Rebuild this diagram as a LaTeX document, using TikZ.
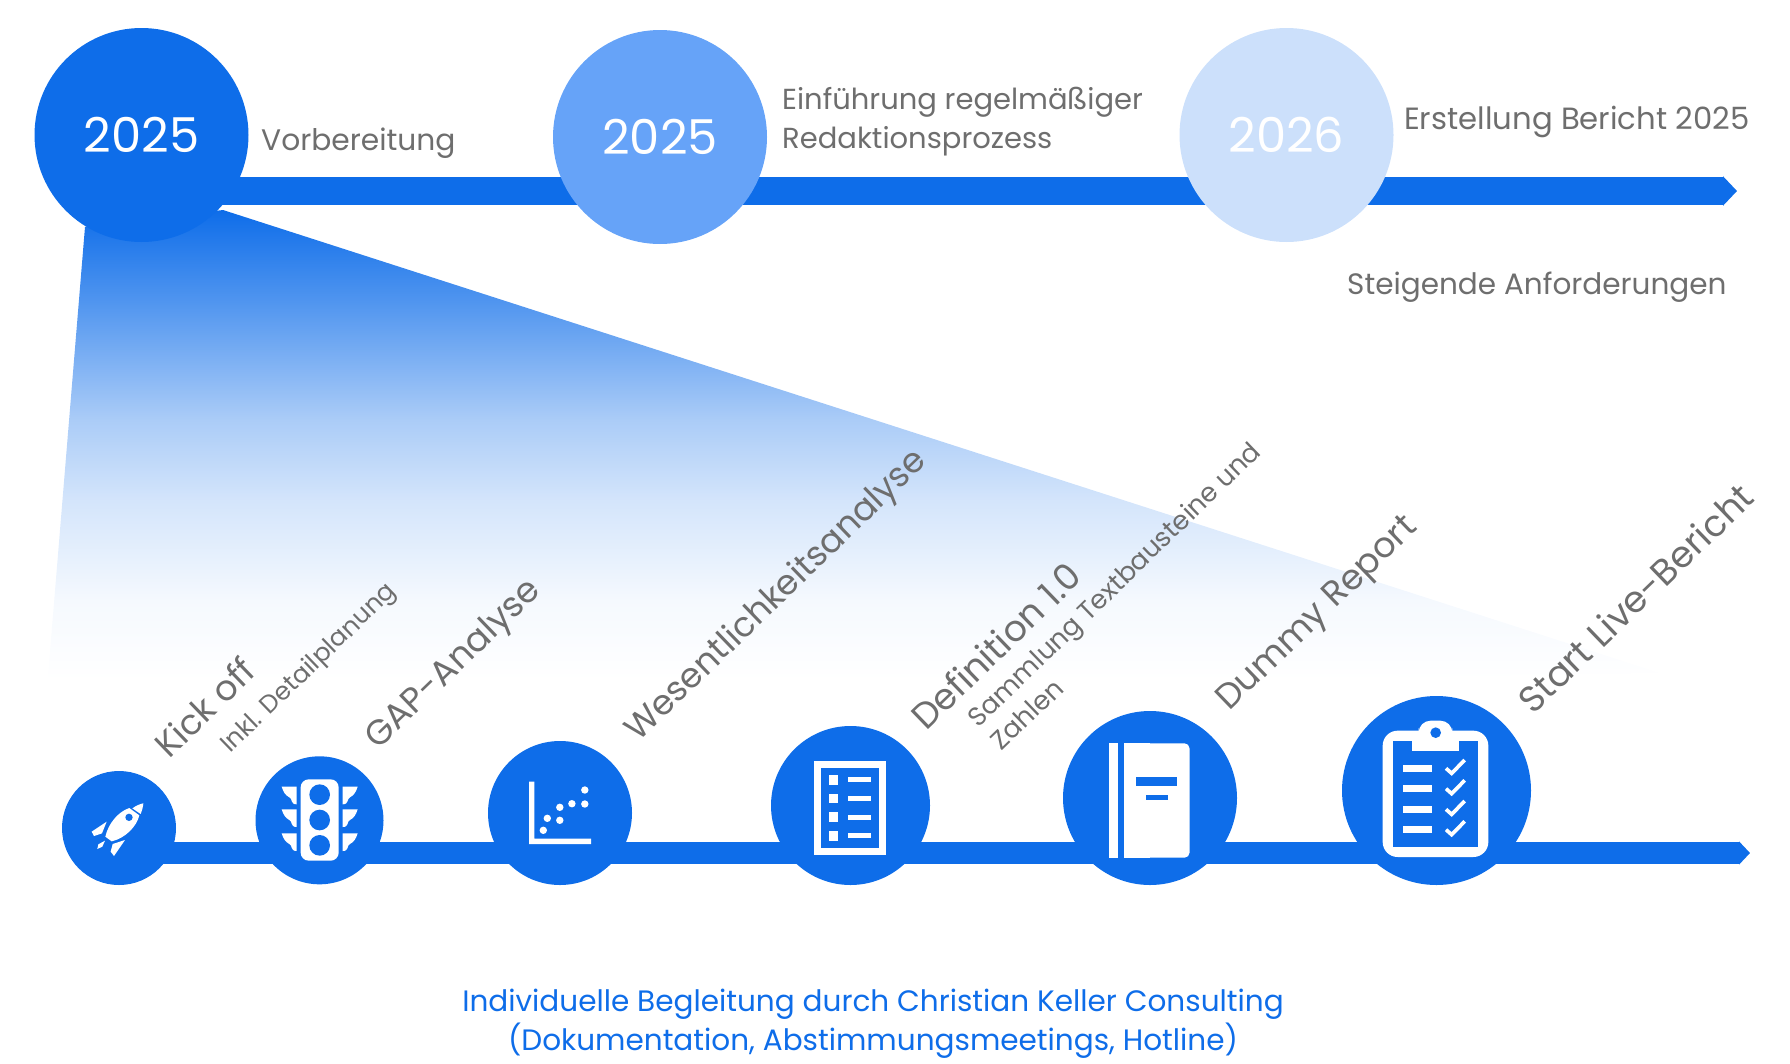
\documentclass[tikz,border=0pt]{standalone}
\usepackage{fontspec}
\setmainfont{Poppins}
\usetikzlibrary{arrows.meta}

\definecolor{barblue}{HTML}{0E6DE9}
\definecolor{midblue}{HTML}{66A3F8}
\definecolor{paleblue}{HTML}{CCE0FB}
\definecolor{labelgrey}{HTML}{6E6E6E}

\pgfdeclareverticalshading{wedgefade}{100bp}{
  color(0bp)=(white); color(27bp)=(white);
  color(35bp)=(barblue!4!white); color(45.4bp)=(barblue!18!white);
  color(53.6bp)=(barblue!35!white); color(65.8bp)=(barblue!73!white);
  color(75bp)=(barblue); color(100bp)=(barblue)}

\tikzset{
  yearcircle/.style={circle, inner sep=0pt, text=white, font=\fontsize{48}{50}\selectfont},
  iconcircle/.style={circle, inner sep=0pt, fill=barblue},
  timeline/.style={draw=barblue, -{Triangle[length=14pt, width=28.7pt]}, line width=28.7pt},
  subline/.style={draw=barblue, -{Triangle[length=11pt, width=22.7pt]}, line width=22.7pt},
  toplabel/.style={text=labelgrey, anchor=base west, inner sep=0pt, font=\fontsize{#1}{39}\selectfont},
  steplabel/.style={text=labelgrey, anchor=base west, inner sep=0pt, rotate=44, font=\fontsize{#1}{40}\selectfont},
  notelabel/.style={text=labelgrey, inner sep=0pt, rotate=44, font=\fontsize{#1}{33}\selectfont}
}

\begin{document}
\begin{tikzpicture}[x=1pt, y=-1pt]

  \useasboundingbox (0,0) rectangle (1790,1063);

  % Fading wedge below the first circle
  \shade[shading=wedgefade]
    (85,227) -- (223,210) -- (1660,673) -- (46,700) -- cycle;

  % Upper time line
  \coordinate (topstart) at (141,191);
  \coordinate (topend) at (1737,191);
  \draw[timeline] (topstart) -- (topend);

  \node[yearcircle, fill=barblue, minimum size=214pt] (yearone) at (141.5,135) {2025};
  \node[yearcircle, fill=midblue, minimum size=214pt] (yeartwo) at (660,137) {2025};
  \node[yearcircle, fill=paleblue, minimum size=214pt] (yearthree) at (1286.5,135) {2026};

  \node[toplabel=29.7] (prep) at (261,150) {Vorbereitung};
  \node[toplabel=29, anchor=west, align=left] (intro) at (782,122) {Einführung regelmäßiger\\Redaktionsprozess};
  \node[toplabel=30.7] (report) at (1404,129) {Erstellung Bericht 2025};
  \node[toplabel=29.5] (rising) at (1347,294) {Steigende Anforderungen};

  % Lower time line
  \coordinate (substart) at (119,853);
  \coordinate (subend) at (1750,853);
  \draw[subline] (substart) -- (subend);

  % Icon circles
  \foreach \name/\x/\y/\r in {rocket/119/828/57, lights/319.5/820.3/64, scatter/560/813/72,
      checklist/850.5/805.5/79.5, book/1150/798/87, clipboard/1436.5/790.5/94.5} {
    \node[iconcircle, minimum size=2*\r pt] (\name) at (\x,\y) {};
  }

  % Rocket
  \begin{scope}[shift={(70,780)}, scale=1/3]
    \fill[white] (187,85) .. controls (200,76) and (210,72) .. (220,70) .. controls (219,82) and (216,92) .. (212,102) -- cycle;
    \fill[white] (178,84) .. controls (145,95) and (115,130) .. (106,170) -- (125,184) .. controls (165,175) and (200,140) .. (208,106) -- cycle;
    \fill[barblue] (177,112) circle (11);
    \fill[white] (110,125) -- (65,155) -- (72,168) -- (96,160) -- cycle;
    \fill[white] (165,180) -- (128,192) -- (122,215) -- (132,228) -- cycle;
    \fill[white] (105,182) -- (85,193) -- (82,207) -- (97,200) -- cycle;
  \end{scope}

  % Traffic light
  \begin{scope}[shift={(270,770)}, scale=1/3]
    \fill[white, rounded corners=8] (92,28) rectangle (206,272);
    \foreach \y in {74,150,226} {
      \fill[barblue] (149,\y) circle (31);
    }
    \foreach \y in {0,68,140} {
      \fill[white] (35,50+\y) -- (80,50+\y) -- (80,103+\y) .. controls (60,103+\y) and (68,85+\y) .. (58,82+\y) .. controls (45,75+\y) and (40,65+\y) .. cycle;
      \fill[white] (263,50+\y) -- (218,50+\y) -- (218,103+\y) .. controls (238,103+\y) and (230,85+\y) .. (240,82+\y) .. controls (253,75+\y) and (258,65+\y) .. cycle;
    }
  \end{scope}

  % Scatter plot
  \fill[white] (529,781.7) -- (534.4,781.7) -- (534.4,838.7) -- (591,838.7) -- (591,844) -- (529,844) -- cycle;
  \foreach \x/\y in {543.3/830.3, 547.3/818.3, 559.8/820.3, 559.8/807.3, 571.9/803.7, 584.8/804, 584.8/790} {
    \fill[white] (\x,\y) circle (3.7);
  }

  % Check list
  \fill[white] (814,761) rectangle (886,854.7);
  \fill[barblue] (821,768) rectangle (879.3,847.7);
  \foreach \y in {775,793.7,812.3,831} {
    \fill[white] (828.8,\y) rectangle (838,\y+9.7);
    \fill[white] (847.7,\y+2.3) rectangle (871,\y+7.3);
  }

  % Report book
  \fill[white] (1109.4,743.3) rectangle (1118,857.7);
  \fill[white, rounded corners=5] (1124.2,743.3) rectangle (1189.5,857.7);
  \fill[white] (1124.2,743.3) rectangle (1150,857.7);
  \fill[barblue] (1136.4,777.3) rectangle (1177.2,786.3);
  \fill[barblue] (1146,794.7) rectangle (1168,800.3);

  % Clipboard
  \begin{scope}[shift={(1370,710)}, scale=1/3]
    \fill[white, rounded corners=15] (38,62) rectangle (355,441);
    \fill[barblue] (68,93) rectangle (325,411);
    \fill[white, rounded corners=12] (146,32) rectangle (247,90);
    \fill[white] (125,93) rectangle (268,124);
    \fill[barblue] (197,68) circle (16);
    \foreach \y in {0,61,123,184} {
      \fill[white] (100,165+\y) rectangle (186,186+\y);
      \draw[white, line width=3.7pt] (228,175+\y) -- (245,190+\y) -- (284,150+\y);
    }
  \end{scope}

  % Slanted step labels
  \node[steplabel=35] (kick) at (169,760) {Kick off};
  \node[steplabel=35] (gap) at (378,751) {GAP-Analyse};
  \node[steplabel=34.5] (materiality) at (638,743) {Wesentlichkeitsanalyse};
  \node[steplabel=36] (definition) at (926,732) {Definition 1.0};
  \node[steplabel=35] (dummy) at (1229,712) {Dummy Report};
  \node[steplabel=36.5] (golive) at (1533,716) {Start Live-Bericht};

  \node[notelabel=25, anchor=base west] (kicknote) at (230,754) {Inkl. Detailplanung};
  \node[notelabel=26.3, anchor=west, align=left] (defnote) at (983,733) {Sammlung Textbausteine und\\Zahlen};

  % Closing note
  \node[text=barblue, align=center, inner sep=0pt, font=\fontsize{29.5}{39}\selectfont] (support) at (873,1024)
    {Individuelle Begleitung durch Christian Keller Consulting\\(Dokumentation, Abstimmungsmeetings, Hotline)};

\end{tikzpicture}
\end{document}
